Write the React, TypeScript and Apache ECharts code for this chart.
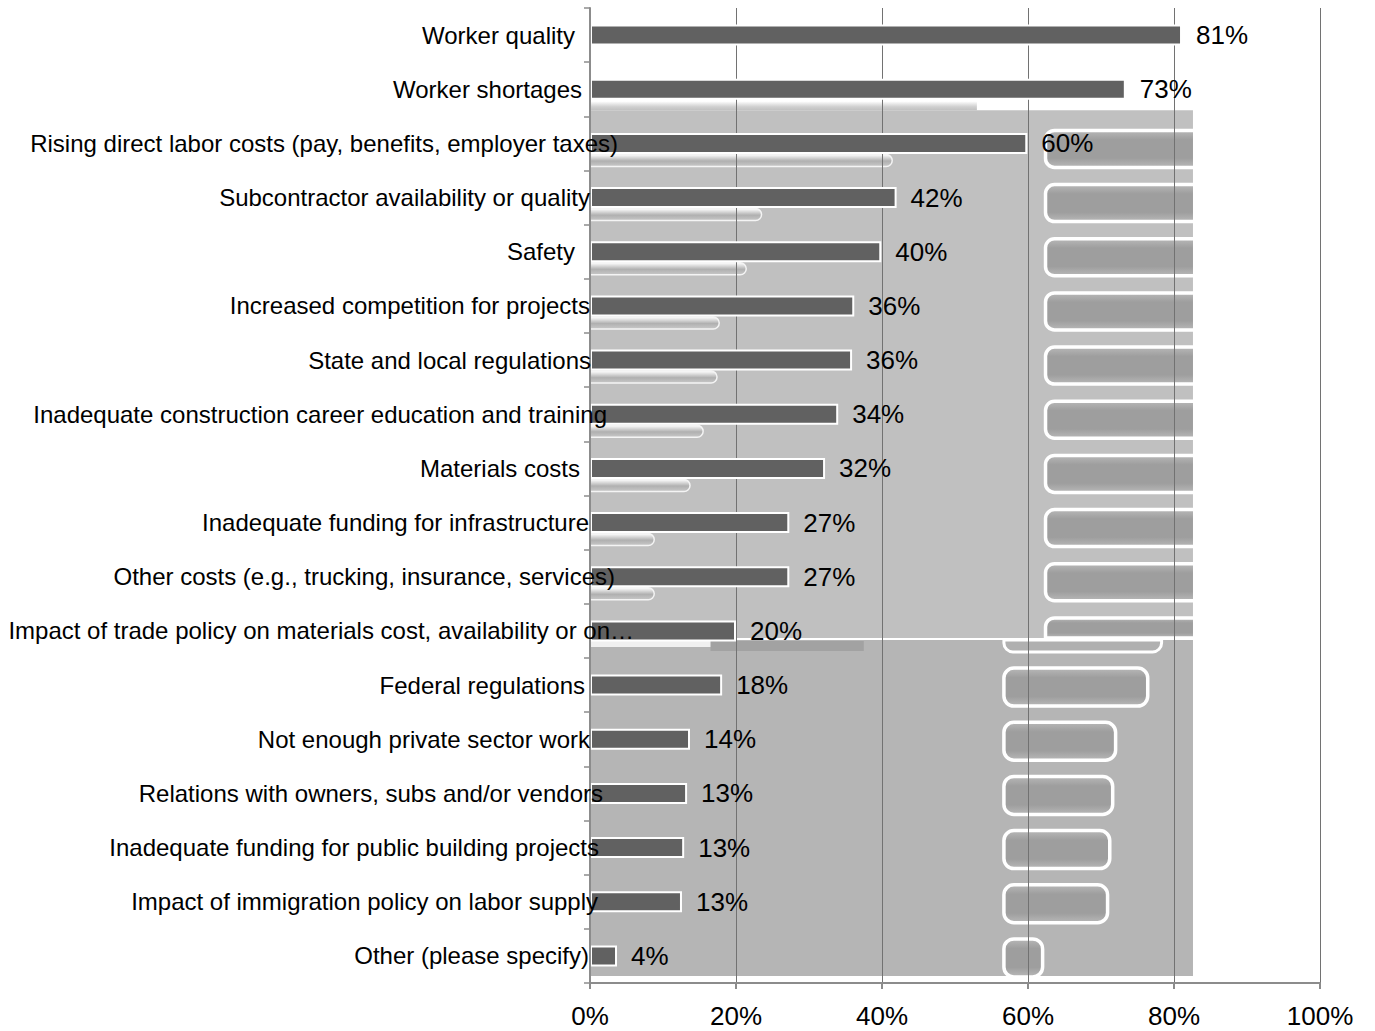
import React, { useEffect, useRef } from "react";
import * as echarts from "echarts";

const categories = [
  "Worker quality",
  "Worker shortages",
  "Rising direct labor costs (pay, benefits, employer taxes)",
  "Subcontractor availability or quality",
  "Safety",
  "Increased competition for projects",
  "State and local regulations",
  "Inadequate construction career education and training",
  "Materials costs",
  "Inadequate funding for infrastructure",
  "Other costs (e.g., trucking, insurance, services)",
  "Impact of trade policy on materials cost, availability or on…",
  "Federal regulations",
  "Not enough private sector work",
  "Relations with owners, subs and/or vendors",
  "Inadequate funding for public building projects",
  "Impact of immigration policy on labor supply",
  "Other (please specify)",
];

// bar lengths (labels show them rounded)
const values = [81.1, 73.4, 59.9, 42.0, 39.9, 36.2, 35.9, 34.0, 32.2, 27.3, 27.3, 20.0, 18.1, 13.7, 13.3, 12.9, 12.6, 3.7];

const xTicks = [0, 20, 40, 60, 80, 100];

// right padding (px) of each category label relative to the common anchor (layout only)
const labelPads = [59, 52, 16, 44, 59, 44, 43, 27, 54, 45, 19, 0, 49, 44, 31, 35, 36, 45];

const FONT = "'Liberation Sans', Arial, sans-serif";

export default function App() {
  const ref = useRef<HTMLDivElement>(null);

  useEffect(() => {
    if (!ref.current) return;
    const chart = echarts.init(ref.current, undefined, { renderer: "svg" });

    const rich: Record<string, any> = {};
    labelPads.forEach((p, i) => {
      rich["p" + i] = {
        padding: [0, p, 0, 0],
        fontSize: 24,
        color: "#000",
        fontFamily: FONT,
      };
    });

    const renderArtifacts = (params: any, api: any) => {
      if (params.dataIndex !== 0) return null;
      const cy = (j: number) => api.coord([0, j])[1];
      const px = (p: number) => api.coord([p, 0])[0];
      const x0 = px(0);
      const xr = px(82.6);
      const children: any[] = [];
      const upTop = cy(1) + 21;
      const upBot = cy(11) + 7;
      const loTop = cy(11) + 9;
      const loBot = cy(17) + 20;
      const pillFill = new echarts.graphic.LinearGradient(0, 0, 0, 1, [
        { offset: 0, color: "#b8b8b8" },
        { offset: 0.25, color: "#9e9e9e" },
        { offset: 0.75, color: "#9e9e9e" },
        { offset: 1, color: "#b8b8b8" },
      ]);
      // upper light region
      children.push({
        type: "rect",
        shape: { x: x0, y: upTop, width: xr - x0, height: upBot - upTop },
        style: { fill: "#c0c0c0" },
      });
      // white/gray band under row 1
      children.push({
        type: "rect",
        shape: { x: x0, y: cy(1) + 12, width: px(53) - x0, height: 9 },
        style: {
          fill: new echarts.graphic.LinearGradient(0, 0, 0, 1, [
            { offset: 0, color: "#ffffff" },
            { offset: 0.6, color: "#d0d0d0" },
            { offset: 1, color: "#c0c0c0" },
          ]),
        },
      });
      // left ghost strips under bars
      for (let j = 2; j <= 10; j++) {
        const end = px(values[j] - 18.5);
        children.push({
          type: "rect",
          shape: { x: x0, y: cy(j) + 11, width: end - x0, height: 12, r: [0, 6, 6, 0] },
          style: {
            fill: new echarts.graphic.LinearGradient(0, 0, 0, 1, [
              { offset: 0, color: "#ffffff" },
              { offset: 0.55, color: "#b0b0b0" },
              { offset: 1, color: "#c8c8c8" },
            ]),
            stroke: "#f4f4f4",
            lineWidth: 1.5,
          },
        });
      }
      // upper right pills
      for (let j = 2; j <= 11; j++) {
        const top = cy(j) - 13;
        const h = j === 11 ? upBot - top : 37;
        children.push({
          type: "rect",
          shape: { x: px(62.4), y: top, width: xr - px(62.4) + 20, height: h, r: j === 11 ? [9, 0, 0, 0] : 9 },
          style: { fill: pillFill, stroke: "#ffffff", lineWidth: 3.5 },
        });
      }
      // cover right overflow
      children.push({
        type: "rect",
        shape: { x: xr, y: upTop - 14, width: px(99.8) - xr, height: loBot - upTop + 20 },
        style: { fill: "#ffffff" },
      });
      // lower region
      children.push({
        type: "rect",
        shape: { x: x0, y: loTop, width: xr - x0, height: loBot - loTop },
        style: { fill: "#b5b5b5" },
      });
      // row 11 partial lower pill + ghost
      children.push({
        type: "rect",
        shape: { x: px(56.7), y: loTop, width: px(values[11] + 58.3) - px(56.7), height: 12, r: [0, 0, 9, 9] },
        style: { fill: "#b0b0b0", stroke: "#ffffff", lineWidth: 3 },
      });
      children.push({
        type: "rect",
        shape: { x: px(16.5), y: loTop + 1, width: px(37.5) - px(16.5), height: 10 },
        style: { fill: "#a2a2a2" },
      });
      children.push({
        type: "rect",
        shape: { x: x0, y: loTop + 1, width: px(16.5) - x0, height: 6 },
        style: { fill: "#f0f0f0" },
      });
      // lower pills
      for (let j = 12; j <= 17; j++) {
        const xs = px(56.7);
        const xe = px(values[j] + 58.3);
        children.push({
          type: "rect",
          shape: { x: xs, y: cy(j) - 17, width: xe - xs, height: 38, r: 10 },
          style: { fill: pillFill, stroke: "#ffffff", lineWidth: 3.5 },
        });
      }
      return { type: "group", children };
    };

    chart.setOption({
      animation: false,
      backgroundColor: "#ffffff",
      grid: { left: 590, right: 55, top: 8, bottom: 48, containLabel: false },
      xAxis: {
        type: "value",
        min: 0,
        max: 100,
        interval: 20,
        axisLine: { show: true, lineStyle: { color: "#8c8c8c", width: 2 } },
        axisTick: { show: true, length: 6, lineStyle: { color: "#8c8c8c", width: 2 } },
        axisLabel: {
          formatter: (v: number) => (xTicks.includes(v) ? v + "%" : ""),
          fontSize: 26,
          color: "#000",
          fontFamily: FONT,
          margin: 20,
        },
        splitLine: { show: true, lineStyle: { color: "#727272", width: 1 } },
      },
      yAxis: {
        type: "category",
        data: categories,
        inverse: true,
        z: 5,
        axisLine: { show: true, lineStyle: { color: "#8c8c8c", width: 2 } },
        axisTick: { show: true, length: 6, lineStyle: { color: "#8c8c8c", width: 1.5 } },
        axisLabel: {
          interval: 0,
          margin: -44,
          align: "right",
          fontSize: 24,
          color: "#000",
          fontFamily: FONT,
          formatter: (v: string, i: number) => `{p${i}|${v}}`,
          rich,
        },
        splitLine: { show: false },
      },
      series: [
        {
          type: "custom",
          z: -1,
          silent: true,
          renderItem: renderArtifacts,
          data: [[0, 0]],
          encode: { x: 0, y: 1 },
        },
        {
          type: "bar",
          data: values,
          barWidth: 21,
          itemStyle: { color: "#616161", borderColor: "#ffffff", borderWidth: 2 },
          label: {
            show: true,
            position: "right",
            distance: 14,
            formatter: (p: any) => Math.round(p.value) + "%",
            fontSize: 26,
            color: "#000",
            fontFamily: FONT,
          },
        },
      ],
    });

    return () => chart.dispose();
  }, []);

  return (
    <div
      ref={ref}
      style={{ position: "absolute", left: 0, top: 0, width: 1375, height: 1031 }}
    />
  );
}
